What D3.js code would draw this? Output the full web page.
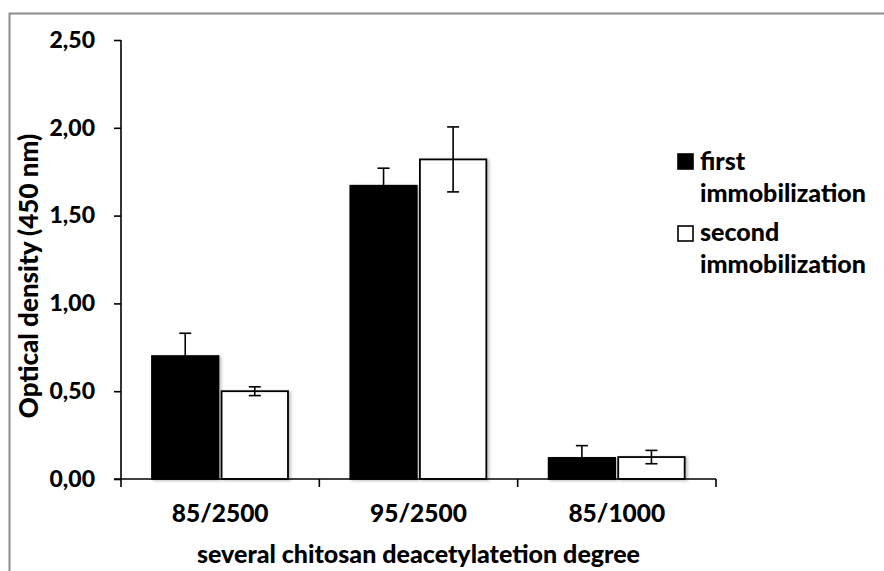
<!DOCTYPE html>
<html>
<head>
<meta charset="utf-8">
<script src="https://cdn.jsdelivr.net/npm/d3@7"></script>
<style>
  html, body { margin: 0; padding: 0; background: #fff; }
  svg { display: block; font-family: Lato, "Open Sans", sans-serif; font-weight: 900; }
</style>
</head>
<body>
<svg id="chart" width="884" height="571"></svg>
<script>
// Chitosan samples (deacetylation degree / molecular weight)
const categories = ["85/2500", "95/2500", "85/1000"];
const seriesNames = ["first immobilization", "second immobilization"];
const firstValues = [0.70, 1.67, 0.12];
const firstErrors = [0.13, 0.10, 0.07];
const secondValues = [0.50, 1.82, 0.125];
const secondErrors = [0.025, 0.185, 0.038];
const yTicks = [0, 0.5, 1.0, 1.5, 2.0, 2.5];

const svg = d3.select("#chart");

// outer frame
svg.append("rect")
  .attr("x", 9.5).attr("y", 13.5)
  .attr("width", 900).attr("height", 600)
  .attr("fill", "none").attr("stroke", "#8c8c8c").attr("stroke-width", 2);

const defs = svg.append("defs");
const f = defs.append("filter").attr("id", "shadow")
  .attr("x", "-20%").attr("y", "-20%").attr("width", "140%").attr("height", "140%");
f.append("feDropShadow").attr("dx", 2).attr("dy", 1).attr("stdDeviation", 1.6)
  .attr("flood-color", "#000").attr("flood-opacity", 0.25);

const plot = { left: 121, right: 716, top: 40, bottom: 479 };

const y = d3.scaleLinear().domain([0, 2.5]).range([plot.bottom, plot.top]);
const x = d3.scaleBand().domain(categories).range([plot.left, plot.right]).padding(0);
const xs = d3.scaleBand().domain(seriesNames)
  .range([31, 31 + 136]).paddingInner(0.045);

const data = categories.map((c, i) => ({
  cat: c,
  bars: [
    { s: seriesNames[0], v: firstValues[i], e: firstErrors[i], fill: "#000" },
    { s: seriesNames[1], v: secondValues[i], e: secondErrors[i], fill: "#fff" }
  ]
}));

// bars
const groups = svg.append("g").selectAll("g").data(data).join("g")
  .attr("transform", d => `translate(${x(d.cat)},0)`);

groups.selectAll("rect").data(d => d.bars).join("rect")
  .attr("x", d => xs(d.s))
  .attr("y", d => y(d.v))
  .attr("width", xs.bandwidth())
  .attr("height", d => y(0) - y(d.v))
  .attr("fill", d => d.fill)
  .attr("stroke", "#000")
  .attr("stroke-width", 1.8)
  .attr("filter", "url(#shadow)");

// error bars
const eb = groups.selectAll("g.err").data(d => d.bars).join("g").attr("class", "err")
  .attr("stroke", "#000").attr("stroke-width", 1.6);
const cx = d => xs(d.s) + xs.bandwidth() / 2;
eb.append("line")
  .attr("x1", cx).attr("x2", cx)
  .attr("y1", d => y(d.v + d.e)).attr("y2", d => y(d.v - d.e));
eb.append("line")
  .attr("x1", d => cx(d) - 6).attr("x2", d => cx(d) + 6)
  .attr("y1", d => y(d.v + d.e)).attr("y2", d => y(d.v + d.e));
eb.append("line")
  .attr("x1", d => cx(d) - 6).attr("x2", d => cx(d) + 6)
  .attr("y1", d => y(d.v - d.e)).attr("y2", d => y(d.v - d.e));

// y axis
const yAxis = svg.append("g")
  .attr("transform", `translate(${plot.left},0)`)
  .call(d3.axisLeft(y).tickValues(yTicks).tickSize(7).tickPadding(19)
    .tickFormat(d => d3.format(".2f")(d).replace(".", ",")));
yAxis.select(".domain").attr("stroke-width", 1.6).attr("d", `M0,${plot.top}V${plot.bottom + 8}`);
yAxis.selectAll(".tick line").attr("stroke-width", 1.6);
yAxis.selectAll("text").attr("font-size", 23).attr("fill", "#000")
  .attr("font-family", "Lato, sans-serif").attr("font-weight", 900);

// x axis: baseline with boundary ticks
const xAxisG = svg.append("g").attr("stroke", "#000").attr("stroke-width", 1.6);
xAxisG.append("line").attr("x1", plot.left - 7).attr("x2", plot.right)
  .attr("y1", plot.bottom).attr("y2", plot.bottom);
const bounds = categories.map(c => x(c)).concat([x(categories[categories.length - 1]) + x.bandwidth()]);
xAxisG.selectAll("line.b").data(bounds.slice(1)).join("line").attr("class", "b")
  .attr("x1", d => d).attr("x2", d => d)
  .attr("y1", plot.bottom).attr("y2", plot.bottom + 8);

svg.append("g").selectAll("text").data(categories).join("text")
  .attr("x", d => x(d) + x.bandwidth() / 2)
  .attr("y", 521.5)
  .attr("text-anchor", "middle")
  .attr("font-size", 24.5)
  .text(d => d);

// axis titles
svg.append("text")
  .attr("x", (plot.left + plot.right) / 2).attr("y", 562.5)
  .attr("text-anchor", "middle")
  .attr("font-size", 25)
  .text("several chitosan deacetylatetion degree");

svg.append("text")
  .attr("transform", "translate(37.5,276) rotate(-90)")
  .attr("text-anchor", "middle")
  .attr("font-size", 26)
  .text("Optical density (450 nm)");

// legend
const legend = svg.append("g");
const legendItems = [
  { fill: "#000", lines: ["first", "immobilization"], y: 154, base: 170 },
  { fill: "#fff", lines: ["second", "immobilization"], y: 226, base: 241 }
];
legendItems.forEach(item => {
  legend.append("rect")
    .attr("x", 678).attr("y", item.y)
    .attr("width", 15).attr("height", 15)
    .attr("fill", item.fill).attr("stroke", "#000").attr("stroke-width", 1.6);
  const t = legend.append("text").attr("x", 700).attr("y", item.base).attr("font-size", 25);
  item.lines.forEach((l, i) => {
    t.append("tspan").attr("x", 700).attr("dy", i === 0 ? 0 : 32).text(l);
  });
});
</script>
</body>
</html>
